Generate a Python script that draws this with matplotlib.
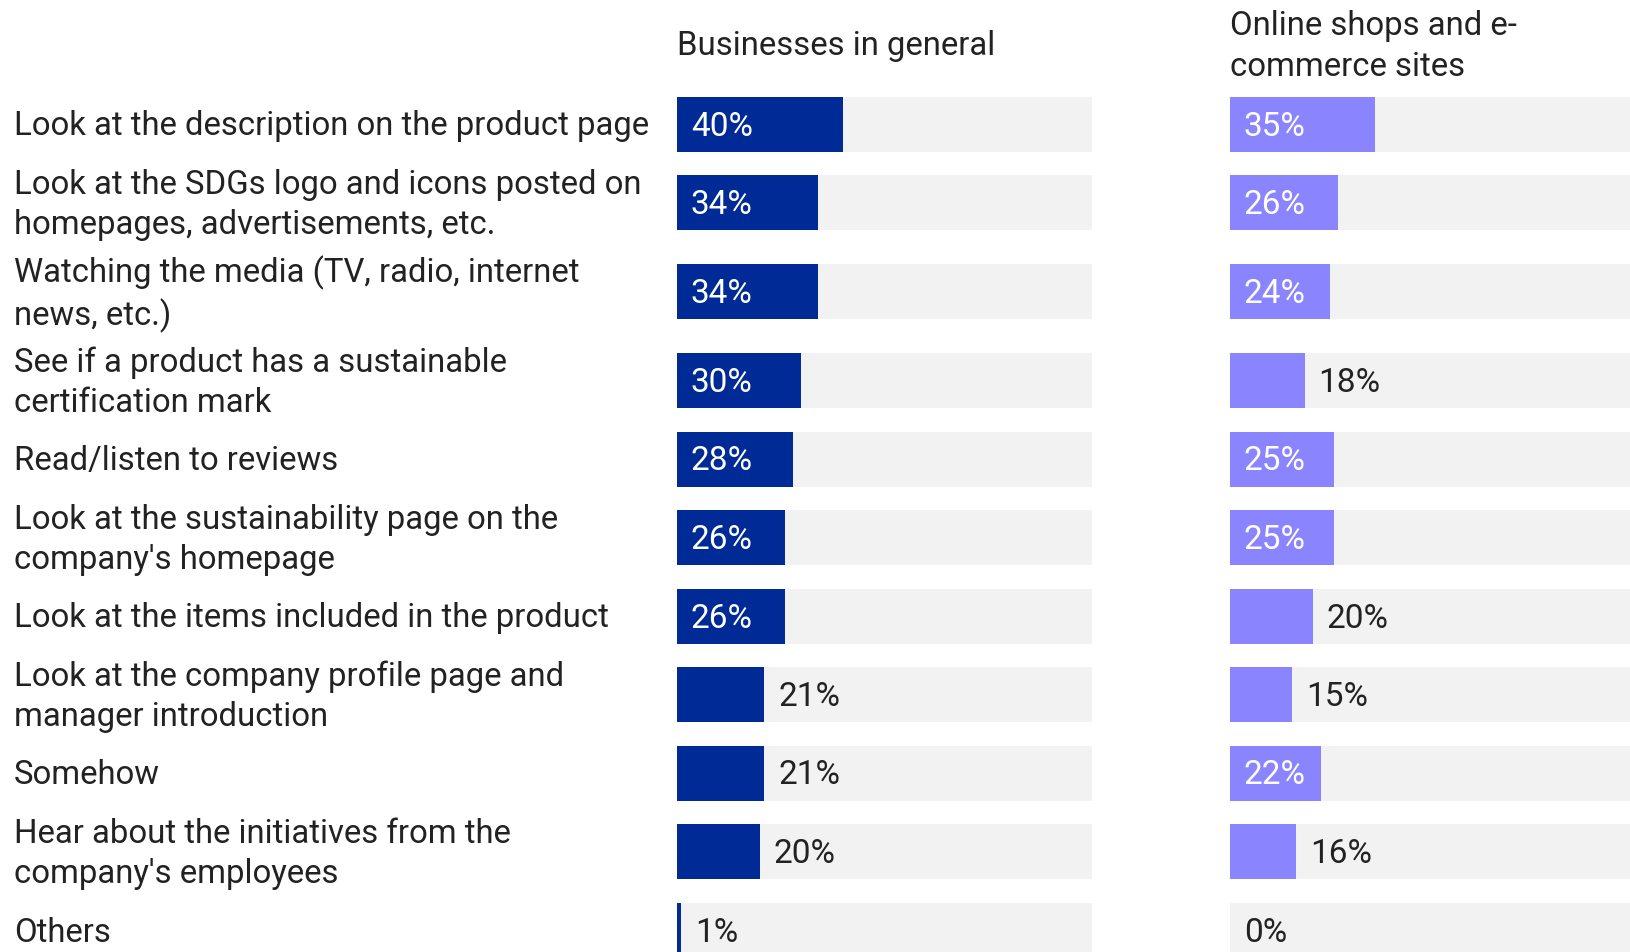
import numpy as np
import matplotlib.pyplot as plt
from matplotlib.transforms import blended_transform_factory

categories = [
    "Look at the description on the product page",
    "Look at the SDGs logo and icons posted on\nhomepages, advertisements, etc.",
    "Watching the media (TV, radio, internet\nnews, etc.)",
    "See if a product has a sustainable\ncertification mark",
    "Read/listen to reviews",
    "Look at the sustainability page on the\ncompany's homepage",
    "Look at the items included in the product",
    "Look at the company profile page and\nmanager introduction",
    "Somehow",
    "Hear about the initiatives from the\ncompany's employees",
    "Others",
]
businesses = [40, 34, 34, 30, 28, 26, 26, 21, 21, 20, 1]
online_shops = [35, 26, 24, 18, 25, 25, 20, 15, 22, 16, 0]
panel_titles = ["Businesses in general", "Online shops and e-\ncommerce sites"]

plt.rcParams['font.family'] = ['Roboto', 'DejaVu Sans']

W, H = 1630, 952
TEXT = '#222222'
TRACK = '#f2f2f2'
colors = ['#002a96', '#8a85ff']
FS = 23.7
NUDGE = 2.5  # push text down a little so it sits optically centred

# rows with wrapped labels get more vertical room
n_lines = np.array([c.count("\n") + 1 for c in categories])
row_h = np.where(n_lines > 1, 89, 68)
centers = 90 + np.cumsum(row_h) - row_h / 2
bar_h = 55
min_inside = 22  # smallest value whose label fits inside the bar

fig = plt.figure(figsize=(W / 100, H / 100), dpi=100)
panel_left = [677, 1230]
panel_width = 415

for i, (vals, title, color) in enumerate(zip([businesses, online_shops], panel_titles, colors)):
    ax = fig.add_axes([panel_left[i] / W, 0, panel_width / W, 1])
    ax.set_xlim(0, 100)
    ax.set_ylim(H, 0)
    ax.axis('off')

    ax.barh(centers, [100] * len(vals), height=bar_h, color=TRACK, linewidth=0)
    ax.barh(centers, vals, height=bar_h, color=color, linewidth=0)

    for y, v in zip(centers, vals):
        if v >= min_inside:
            ax.annotate(f"{v}%", (0, y + NUDGE), xytext=(10, 0), textcoords='offset points',
                        va='center', ha='left', fontsize=24, color='white')
        else:
            ax.annotate(f"{v}%", (v, y + NUDGE), xytext=(10, 0), textcoords='offset points',
                        va='center', ha='left', fontsize=24, color=TEXT)

    ax.text(0, 44 + NUDGE, title, va='center', ha='left', fontsize=FS, color=TEXT,
            linespacing=1.33)

    if i == 0:
        trans = blended_transform_factory(fig.transFigure, ax.transData)
        for y, label in zip(centers, categories):
            ax.text(14 / W, y + NUDGE, label, transform=trans, va='center', ha='left',
                    fontsize=FS, color=TEXT, linespacing=1.33)

fig.savefig('out.png', dpi=100)
